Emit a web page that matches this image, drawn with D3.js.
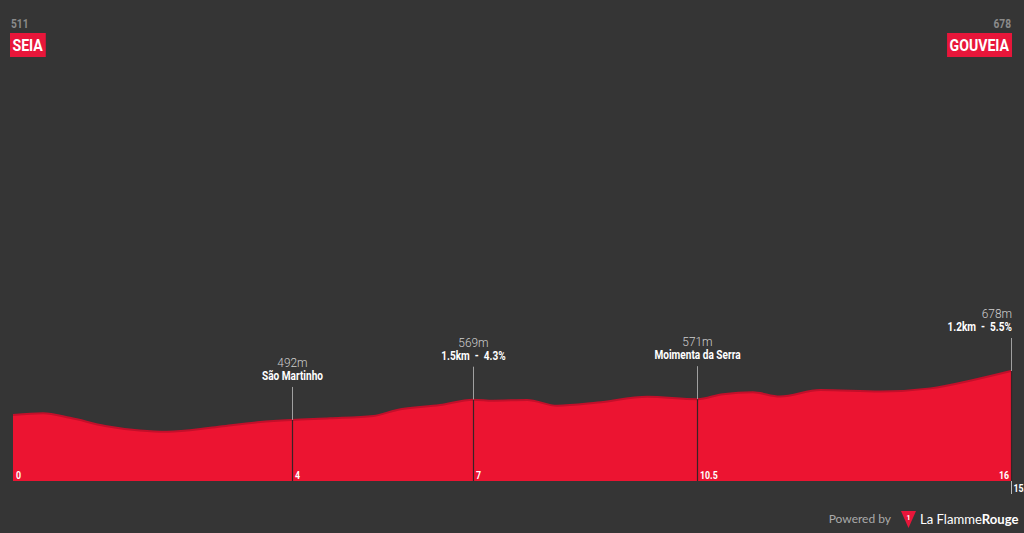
<!DOCTYPE html>
<html><head><meta charset="utf-8">
<script src="https://cdn.jsdelivr.net/npm/d3@7"></script>
<style>
html,body{margin:0;padding:0;background:#353535;overflow:hidden}
svg{display:block}
</style></head><body>
<svg id="c" width="1024" height="533"></svg>
<script>
// Data
const dist = [0,0.47,0.89,1.44,1.98,2.41,3.08,3.44,3.86,4.36,4.95,5.63,6.0,6.67,7.19,7.5,8.03,8.5,9.13,9.91,10.69,11.09,11.56,11.98,12.61,13.55,14.33,15.0,15.59];
const elev = [511,517,500,469,452,447,462,473,484,492,498,507,530,549,569,565,568,546,558,580,571,590,597,581,606,600,612,644,678];
const markerKm = [4.36, 7.19, 10.69, 15.59];
const markerElev = [492, 569, 571, 678];
const markerElevLabels = ["492m","569m","571m","678m"];
const markerNames = ["São Martinho","1.5km - 4.3%","Moimenta da Serra","1.2km - 5.5%"];
const distLabels = ["0","4","7","10.5","16"];
const distLabelKm = [0, 4.36, 7.19, 10.69, 15.59];
const startName = "SEIA", startElev = "511";
const endName = "GOUVEIA", endElev = "678";
const totalLabel = "15.6";

const svg = d3.select("#c");
const x = d3.scaleLinear().domain([0, 15.59]).range([13, 1011]);
const y = d3.scaleLinear().domain([260, 678]).range([481, 371]);
const pts = dist.map((d,i)=>({d, e: elev[i]}));
const RED = "#ec1431", DARK = "#c30f2a";
const FONT = "Roboto, 'DejaVu Sans', sans-serif";

function ctext(px, py, str, size, weight, fill, anchor, sx){
  return svg.append("text")
    .attr("transform", `translate(${px},${py}) scale(${sx},1)`)
    .attr("text-anchor", anchor)
    .attr("font-family", FONT).attr("font-weight", weight).attr("font-size", size)
    .attr("fill", fill).text(str);
}

const area = d3.area().x(p=>x(p.d)).y0(y(260)).y1(p=>y(p.e)).curve(d3.curveMonotoneX);
const line = d3.line().x(p=>x(p.d)).y(p=>y(p.e)).curve(d3.curveMonotoneX);
svg.append("path").attr("d", area(pts)).attr("fill", RED);
svg.append("path").attr("d", line(pts)).attr("fill","none").attr("stroke", DARK).attr("stroke-width", 2);

// markers
markerKm.forEach((k,i)=>{
  const xx = Math.round(x(k)) + 0.5;
  const yt = y(markerElev[i]);
  const top = yt - 33;
  svg.append("line").attr("x1",xx).attr("x2",xx).attr("y1",top).attr("y2",yt).attr("stroke","#a0a0a0").attr("stroke-width",1);
  svg.append("line").attr("x1",xx).attr("x2",xx).attr("y1",yt).attr("y2",y(260)).attr("stroke","#3a2226").attr("stroke-width",1.2);
  const last = i === markerKm.length-1;
  const anchor = last ? "end" : "middle";
  const tx = last ? xx + 0.5 : xx;
  ctext(tx, top-7, markerNames[i].replace(" - ", "  -  "), 12, "bold", "#fff", anchor, 0.84).style("white-space","pre");
  ctext(tx, top-20, markerElevLabels[i], 12.5, 300, "#cfcfcf", anchor, 0.95);
});

// distance labels
distLabelKm.forEach((k,i)=>{
  const xx = Math.round(x(k));
  const last = i === distLabelKm.length-1;
  ctext(last ? xx-2 : xx+3, 479, distLabels[i], 11, "bold", "#fff", last ? "end" : "start", 0.8);
});

// end tick and total
const xe = Math.round(x(15.59)) + 0.5;
svg.append("line").attr("x1",xe).attr("x2",xe).attr("y1",481).attr("y2",494).attr("stroke","#bbb").attr("stroke-width",1);
ctext(xe+2, 492, totalLabel, 11, "bold", "#fff", "start", 0.8);

// start / finish boxes
function place(name, el, xPos, anchorRight){
  const sx = 0.83;
  const t = ctext(0, 0, name, 17, "bold", "#fff", "start", sx);
  const w = t.node().getBBox().width * sx;
  const bw = w + 5;
  const bx = anchorRight ? xPos - bw : xPos;
  svg.insert("rect","text").attr("x",bx).attr("y",33).attr("width",bw).attr("height",24).attr("fill","#e8163a");
  t.attr("transform", `translate(${bx + 2.5},51) scale(${sx},1)`);
  ctext(anchorRight ? xPos-1 : xPos+1, 28, el, 12, "bold", "#8a8a8a", anchorRight ? "end" : "start", 0.85);
}
place(startName, startElev, 10, false);
place(endName, endElev, 1012, true);

// footer
svg.append("text").attr("x",891).attr("y",523).attr("text-anchor","end").attr("font-family","Lato, 'DejaVu Sans', sans-serif").attr("font-size",12).attr("fill","#aaa").text("Powered by");
svg.append("path").attr("d","M901,511 L916,511 L908.5,528 Z").attr("fill","#e8163a");
svg.append("text").attr("x",908.5).attr("y",520).attr("text-anchor","middle").attr("font-family",FONT).attr("font-weight","bold").attr("font-size",7).attr("fill","#fff").text("1");
const ft = svg.append("text").attr("x",920).attr("y",524).attr("font-family","Lato, 'DejaVu Sans', sans-serif").attr("font-size",14).attr("fill","#fff");
ft.append("tspan").text("La Flamme");
ft.append("tspan").attr("font-weight","bold").text("Rouge");
const fw = ft.node().getBBox().width;
if (fw > 99) ft.attr("font-size", 14 * 99 / fw);
</script>
</body></html>
